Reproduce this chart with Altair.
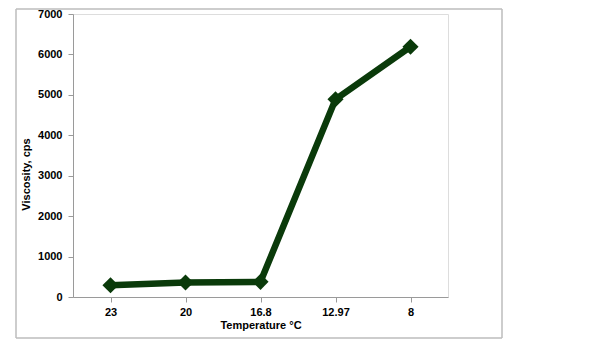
import altair as alt
import pandas as pd

temps = ["23", "20", "16.8", "12.97", "8"]
viscosity = [290, 360, 375, 4890, 6190]

df = pd.DataFrame({"temp": temps, "visc": viscosity})

FONT = "Liberation Sans"
GREEN = "#0a3a0a"
FS = 11

x = alt.X("temp:N", sort=temps,
          scale=alt.Scale(paddingInner=0, paddingOuter=0),
          axis=alt.Axis(title="Temperature °C", labelAngle=0, bandPosition=0,
                        labelFont=FONT, labelFontWeight="bold", labelFontSize=FS,
                        labelColor="black", titleFont=FONT, titleFontWeight="bold",
                        titleFontSize=FS, titleColor="black", titlePadding=2,
                        domainColor="#9a9a9a", tickColor="#9a9a9a", tickSize=5,
                        labelPadding=4, grid=False))
y = alt.Y("visc:Q",
          scale=alt.Scale(domain=[0, 7000], nice=False),
          axis=alt.Axis(title="Viscosity, cps", values=list(range(0, 7001, 1000)),
                        format="d",
                        labelFont=FONT, labelFontWeight="bold", labelFontSize=FS,
                        labelColor="black", titleFont=FONT, titleFontWeight="bold",
                        titleFontSize=FS, titleColor="black", titleX=-42, titleY=160,
                        domainColor="#9a9a9a", tickColor="#9a9a9a", tickSize=5,
                        labelPadding=6, grid=False))

line = alt.Chart(df).mark_line(color=GREEN, strokeWidth=6.5).encode(x=x, y=y)
pts = alt.Chart(df).mark_point(shape="diamond", filled=True, color=GREEN,
                               size=260, opacity=1).encode(x=x, y=y)

one = pd.DataFrame({"a": [0]})
FR = dict(stroke="#bdbdbd", strokeWidth=1.5, clip=False)
X0, X1, Y0, Y1 = -57, 429, -5, 324
top = alt.Chart(one).mark_rule(**FR).encode(x=alt.value(X0), x2=alt.value(X1), y=alt.value(Y0))
bot = alt.Chart(one).mark_rule(**FR).encode(x=alt.value(X0), x2=alt.value(X1), y=alt.value(Y1))
lft = alt.Chart(one).mark_rule(**FR).encode(x=alt.value(X0), y=alt.value(Y0), y2=alt.value(Y1))
rgt = alt.Chart(one).mark_rule(**FR).encode(x=alt.value(X1), y=alt.value(Y0), y2=alt.value(Y1))

chart = alt.layer(top, bot, lft, rgt, line, pts).properties(
    width=375, height=283,
    autosize=alt.AutoSizeParams(type="none"),
    padding={"left": 65, "top": 6, "right": 100, "bottom": 50},
).configure_view(stroke=None).configure(background="white")

chart.save("out.html", embed_options={"renderer": "svg", "actions": False})
